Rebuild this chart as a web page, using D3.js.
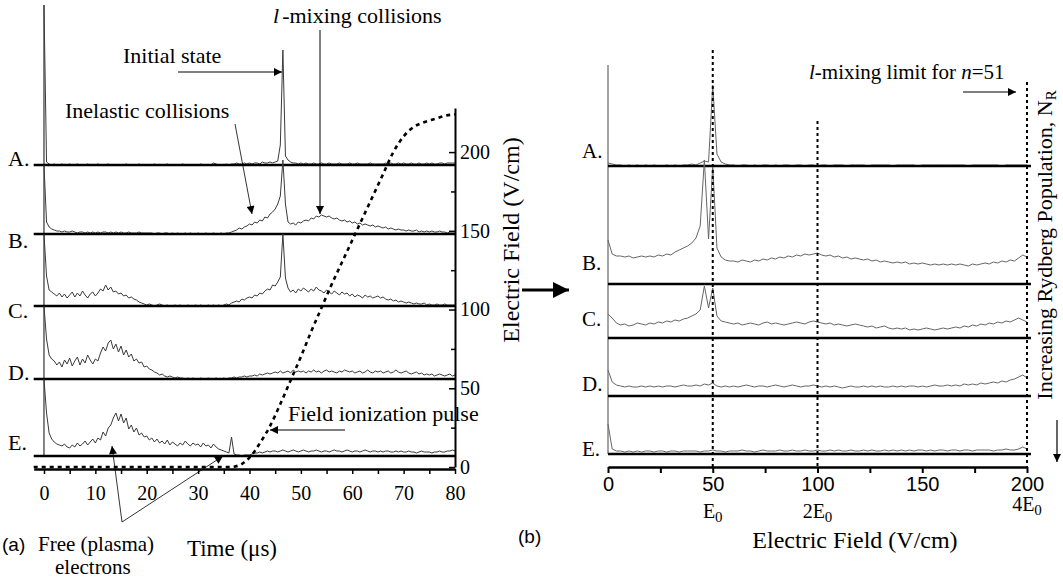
<!DOCTYPE html>
<html>
<head>
<meta charset="utf-8">
<script src="https://cdn.jsdelivr.net/npm/d3@7"></script>
<style>
  body { margin: 0; background: #fff; }
  svg { display: block; }
  .serif { font-family: "Liberation Serif", "Times New Roman", serif; }
  .sans { font-family: "Liberation Sans", Arial, sans-serif; }
</style>
</head>
<body>
<div id="chart"></div>
<script>
// ---- data ----
const traceLabels = ['A.', 'B.', 'C.', 'D.', 'E.']

// (a) signal vs time, one value every 0.5 us from 0 to 80 us (arb. units)
const timeStep = 0.5
const timeSignalA = [
  160,3,1,0,1,0,0,1,0,0, 1,0,0,1,0,0,0,1,0,0, 0,1,0,0,0,1,0,0,0,0, 0,0,1,0,0,0,0,1,0,0,
  0,0,0,1,0,0,0,0,1,0, 0,0,0,0,1,0,0,0,0,0, 0,1,0,0,0,0,2,1,0,0, 0,1,0,1,1,2,1,1,2,1,
  2,1,2,2,1,3,2,2,3,2, 3,4,20,115,9,5,3,2,2,1, 2,1,2,1,1,2,1,1,2,1, 1,2,1,1,1,2,1,1,1,2,
  1,1,2,1,1,1,1,2,1,1, 1,1,1,2,1,2,1,1,2,1, 2,1,1,2,1,1,2,1,1,2, 1,2,1,1,2,2,1,2,2,2,
  2]
const timeSignalB = [
  69,12,7,5,4,3,3,2,3,2, 2,3,2,1,2,2,1,2,1,2, 1,2,1,2,2,1,2,1,2,1, 2,1,1,2,1,1,1,2,1,1,
  1,1,1,0,1,1,0,1,1,0, 1,0,1,0,0,1,0,1,0,0, 1,0,0,1,0,0,1,0,0,1, 0,1,1,2,3,4,6,5,7,8,
  10,9,12,11,14,13,17,16,20,22, 25,30,38,74,30,12,10,11,9,12, 11,13,14,13,16,15,18,17,19,18, 17,18,16,15,16,14,13,14,12,13,
  11,12,10,11,9,10,9,8,9,7, 8,7,6,7,5,6,5,4,5,4, 4,3,4,3,3,4,2,3,2,3, 2,3,2,2,3,2,2,1,2,2,
  2]
const timeSignalC = [
  72,30,16,14,12,10,13,9,12,8, 11,14,9,13,10,15,11,8,12,14, 10,13,17,15,21,16,19,14,15,12, 13,10,11,8,9,7,6,4,3,2,
  1,2,1,0,1,2,1,0,1,0, 0,1,0,1,0,0,1,0,0,1, 0,1,0,0,1,0,1,0,1,0, 1,2,1,3,4,5,4,7,6,8,
  9,8,11,10,13,12,15,17,16,21, 20,24,29,72,28,18,14,16,13,17, 15,18,16,14,17,15,19,16,15,13, 16,14,12,15,13,11,14,12,13,10,
  12,9,11,10,8,11,9,10,8,9, 10,8,9,7,6,7,5,6,4,5, 4,3,4,3,2,3,2,2,3,1, 2,1,1,2,1,1,2,1,1,1,
  1]
const timeSignalD = [
  73,40,24,20,18,14,17,12,19,15, 21,13,18,22,14,20,16,24,19,15, 20,18,26,32,28,36,39,30,35,27, 33,24,29,22,25,18,20,16,17,12,
  13,10,9,7,6,4,5,3,2,3, 2,1,2,1,1,0,1,0,1,0, 0,1,0,0,1,0,0,1,0,0, 1,0,1,1,2,1,2,2,3,2,
  3,3,4,3,5,4,5,6,5,6, 7,6,8,6,7,8,6,9,7,8, 7,8,6,8,7,9,7,8,6,8, 9,7,8,7,6,8,7,9,8,7,
  8,6,7,8,6,7,9,7,6,8, 7,8,6,7,8,6,7,9,7,6, 7,8,6,5,6,7,5,6,4,5, 4,5,3,4,5,4,3,4,5,3,
  4]
const timeSignalE = [
  77,43,23,17,14,12,11,10,12,9, 8,11,9,13,10,12,15,11,14,17, 13,18,16,24,20,28,31,38,43,35, 42,33,38,27,31,24,28,21,23,19,
  20,16,18,14,17,13,15,12,16,11, 14,12,10,13,11,15,12,10,13,11, 12,9,13,10,11,8,12,9,7,6, 5,4,3,19,2,1,1,0,1,1,
  1,2,3,3,4,3,4,5,4,5, 5,4,5,6,5,4,5,6,5,4, 5,6,5,4,5,5,6,5,4,5, 5,4,5,6,5,5,4,5,6,5,
  4,5,5,4,5,6,5,4,5,5, 4,5,4,5,5,4,4,5,4,5, 4,4,5,4,4,3,4,5,4,4, 4,3,4,4,5,4,4,5,5,6,
  5]

// field ionization pulse (V/cm) vs time (us)
const pulseTime = [-2, 36, 38, 39, 40, 41, 42, 44, 46, 48, 50, 52, 54, 56, 58, 60, 62, 64, 66, 68, 70, 72, 74, 76, 78, 80]
const pulseField = [0, 0, 1, 3, 6, 10, 15, 26, 40, 55, 70, 86, 101, 116, 130, 144, 158, 172, 186, 200, 210, 216, 219, 221, 223, 224]

// (b) signal vs electric field, one value every 2 V/cm from 0 to 200 V/cm
const fieldStep = 2
const fieldSignalA = [
  3,2,1,1,0,1,0,1,0,1, 0,1,0,0,1,0,1,0,1,1, 2,1,3,5,4,81,12,4,2,1, 1,0,1,1,0,1,0,1,1,0,
  1,0,1,1,0,1,1,0,1,1, 0,1,1,0,1,1,1,0,1,1, 1,1,0,1,1,1,1,1,0,1, 1,1,1,1,0,1,1,1,1,1,
  1,1,1,1,1,1,0,1,1,1, 1,1,1,1,0,1,1,1,1,1, 1]
const fieldSignalB = [
  44,30,28,28,27,28,26,27,28,27, 28,27,29,28,30,29,32,34,36,38, 41,46,58,124,45,118,36,27,24,23, 23,22,24,23,22,24,23,25,24,26,
  25,27,26,28,27,29,28,30,29,30, 31,29,28,29,27,28,26,27,25,26, 25,24,25,23,24,22,23,22,21,22, 21,22,20,21,20,21,20,19,20,19,
  20,19,20,19,20,19,18,20,19,20, 21,20,22,21,23,22,24,23,26,29, 27]
const fieldSignalC = [
  24,20,15,13,14,12,13,15,14,13, 15,14,16,15,17,16,18,17,19,20, 22,24,28,52,30,50,22,17,16,15, 14,15,13,14,15,14,13,15,16,14,
  15,14,13,14,15,16,15,14,16,17, 16,15,14,15,13,14,13,12,13,14, 13,12,11,12,10,11,12,10,9,10, 9,10,8,9,8,9,10,9,8,9,
  10,9,10,11,10,12,11,13,12,14, 13,15,14,16,15,17,16,18,20,18, 16]
const fieldSignalD = [
  26,14,11,10,9,10,9,9,10,9, 10,9,10,9,10,10,9,10,11,10, 10,11,10,12,11,13,10,9,10,9, 10,9,10,11,10,9,10,10,9,10,
  11,10,9,10,11,10,9,10,10,11, 10,9,10,9,10,9,8,9,10,9, 9,10,9,10,9,10,9,9,10,9, 10,9,10,10,9,10,9,10,11,10,
  10,11,10,11,10,12,11,12,11,13, 12,13,14,13,15,14,16,17,19,21, 18]
const fieldSignalE = [
  30,5,3,3,2,3,2,3,2,3, 3,2,3,3,2,3,3,2,3,3, 3,3,2,3,3,4,3,3,2,3, 3,3,4,3,3,2,3,4,3,3,
  3,4,3,3,4,3,3,4,3,3, 4,3,3,4,3,4,3,3,4,3, 3,4,3,4,3,3,4,3,4,3, 4,3,4,3,4,4,3,4,3,4,
  4,3,4,4,3,4,4,3,4,4, 4,4,3,4,4,5,4,4,5,7, 5]

const timeTicks = [0, 10, 20, 30, 40, 50, 60, 70, 80]
const pulseTicks = [0, 50, 100, 150, 200]
const fieldTicks = [0, 50, 100, 150, 200]
const fieldMarks = [50, 100, 200]
const fieldMarkPrefix = ['', '2', '4']

// ---- layout ----
const width = 1063
const height = 578
const leftBase = [165, 234, 306, 379, 456]
const rightBase = [166, 284, 338, 396, 454]

const svg = d3.select('#chart').append('svg')
  .attr('width', width)
  .attr('height', height)

const defs = svg.append('defs')
function addMarker (id, w, h) {
  defs.append('marker')
    .attr('id', id)
    .attr('viewBox', '0 0 10 10')
    .attr('refX', 10).attr('refY', 5)
    .attr('markerWidth', w).attr('markerHeight', h)
    .attr('markerUnits', 'userSpaceOnUse')
    .attr('orient', 'auto')
    .append('path').attr('d', 'M0,0L10,5L0,10Z').attr('fill', '#000')
}
addMarker('head', 11, 8)
addMarker('headBig', 18, 16)

function arrow (x1, y1, x2, y2, w, marker) {
  svg.append('line')
    .attr('x1', x1).attr('y1', y1).attr('x2', x2).attr('y2', y2)
    .attr('stroke', '#000').attr('stroke-width', w)
    .attr('marker-end', 'url(#' + marker + ')')
}

function label (x, y, txt, size, cls, anchor) {
  return svg.append('text')
    .attr('class', cls || 'serif')
    .attr('x', x).attr('y', y)
    .attr('font-size', size)
    .attr('text-anchor', anchor || 'start')
    .text(txt)
}

// ================= panel (a) =================
const xT = d3.scaleLinear().domain([-2, 80]).range([33.7, 455])
const yF = d3.scaleLinear().domain([0, 228]).range([467, 108])

// vertical line at t = 0 (clipped initial spikes)
svg.append('line')
  .attr('x1', xT(0)).attr('x2', xT(0))
  .attr('y1', 5).attr('y2', leftBase[4])
  .attr('stroke', '#333').attr('stroke-width', 1.2)

const leftSignals = [timeSignalA, timeSignalB, timeSignalC, timeSignalD, timeSignalE]
leftSignals.forEach((vals, k) => {
  const y = d3.scaleLinear().domain([0, 100]).range([leftBase[k], leftBase[k] - 100])
  const line = d3.line().x((d, i) => xT(i * timeStep)).y(d => y(d))
  svg.append('path')
    .attr('d', line(vals))
    .attr('fill', 'none')
    .attr('stroke', '#3a3a3a')
    .attr('stroke-width', 1)
  svg.append('line')
    .attr('x1', xT(-2)).attr('x2', xT(80))
    .attr('y1', leftBase[k]).attr('y2', leftBase[k])
    .attr('stroke', '#000').attr('stroke-width', 2.6)
})

const leftLabelY = [166, 248, 318, 380, 450]
traceLabels.forEach((t, k) => label(8, leftLabelY[k], t, 22))

// bottom time axis
const axT = svg.append('g')
  .attr('transform', 'translate(0,469)')
  .call(d3.axisBottom(xT).tickValues(d3.range(0, 81, 5)).tickSizeInner(5).tickSizeOuter(0).tickFormat(''))
axT.select('.domain').attr('stroke-width', 2.4)
axT.selectAll('.tick line').attr('stroke-width', 1.5)
const axTl = svg.append('g')
  .attr('transform', 'translate(0,469)')
  .call(d3.axisBottom(xT).tickValues(timeTicks).tickSize(0).tickPadding(17))
axTl.select('.domain').remove()
axTl.selectAll('text').attr('class', 'serif').attr('font-size', 20).attr('fill', '#000')

// right field axis of panel (a)
const axF = svg.append('g')
  .attr('transform', 'translate(455,0)')
  .call(d3.axisRight(yF).tickValues(pulseTicks).tickSizeInner(-6).tickSizeOuter(0).tickPadding(5))
axF.select('.domain').attr('stroke-width', 2)
axF.selectAll('.tick line').attr('stroke-width', 1.5)
axF.selectAll('text').attr('class', 'serif').attr('font-size', 20).attr('fill', '#000')
const axFm = svg.append('g')
  .attr('transform', 'translate(455,0)')
  .call(d3.axisRight(yF).tickValues([25, 75, 125, 175]).tickSizeInner(-4).tickSizeOuter(0).tickFormat(''))
axFm.select('.domain').remove()
axFm.selectAll('.tick line').attr('stroke-width', 1.5)

// field ionization pulse
const pulseLine = d3.line().x((d, i) => xT(pulseTime[i])).y(d => yF(d)).curve(d3.curveMonotoneX)
svg.append('path')
  .attr('d', pulseLine(pulseField))
  .attr('fill', 'none')
  .attr('stroke', '#000')
  .attr('stroke-width', 2.6)
  .attr('stroke-dasharray', '4,4')

// annotations (a)
const lmix = svg.append('text').attr('class', 'serif').attr('x', 273).attr('y', 23).attr('font-size', 22)
lmix.append('tspan').attr('font-style', 'italic').text('l')
lmix.append('tspan').attr('dx', 3).text('-mixing collisions')
arrow(320, 30, 320, 214, 1, 'head')

label(123, 63, 'Initial state', 22)
arrow(178, 72, 282, 72, 1.2, 'head')

label(65, 118, 'Inelastic collisions', 22)
arrow(235, 124, 252, 214, 0.8, 'head')

label(288, 421, 'Field ionization pulse', 22)
arrow(345, 430, 270, 430, 1, 'head')

label(2, 551, '(a)', 19, 'sans')
label(38, 551, 'Free (plasma)', 21)
label(55, 574, 'electrons', 21)
arrow(122, 522, 112, 446, 0.8, 'head')
arrow(122, 522, 223, 456, 0.8, 'head')

label(232, 556, 'Time (\u03bcs)', 23, 'serif', 'middle')

// rotated field label + arrow into panel (b)
label(0, 0, 'Electric Field (V/cm)', 24)
  .attr('text-anchor', 'middle')
  .attr('transform', 'translate(519,240) rotate(-90)')
arrow(522, 290, 569, 290, 3.2, 'headBig')

// ================= panel (b) =================
const xE = d3.scaleLinear().domain([0, 200]).range([608, 1027])

svg.append('line')
  .attr('x1', xE(0)).attr('x2', xE(0))
  .attr('y1', 65).attr('y2', rightBase[4])
  .attr('stroke', '#666').attr('stroke-width', 1.2)

const rightSignals = [fieldSignalA, fieldSignalB, fieldSignalC, fieldSignalD, fieldSignalE]
rightSignals.forEach((vals, k) => {
  const y = d3.scaleLinear().domain([0, 100]).range([rightBase[k], rightBase[k] - 100])
  const line = d3.line().x((d, i) => xE(i * fieldStep)).y(d => y(d))
  svg.append('path')
    .attr('d', line(vals))
    .attr('fill', 'none')
    .attr('stroke', '#666')
    .attr('stroke-width', 1)
  svg.append('line')
    .attr('x1', xE(0)).attr('x2', xE(200) + 4)
    .attr('y1', rightBase[k]).attr('y2', rightBase[k])
    .attr('stroke', '#000').attr('stroke-width', 2.6)
})

// dotted field markers
const markTop = [50, 121, 82]
fieldMarks.forEach((v, i) => {
  svg.append('line')
    .attr('x1', xE(v)).attr('x2', xE(v))
    .attr('y1', markTop[i]).attr('y2', 467)
    .attr('stroke', '#000').attr('stroke-width', 2)
    .attr('stroke-dasharray', '3,3')
})

const rightLabelY = [158, 270, 326, 391, 456]
traceLabels.forEach((t, k) => label(582, rightLabelY[k], t, 21))

const axE = svg.append('g')
  .attr('transform', 'translate(0,467)')
  .call(d3.axisBottom(xE).tickValues(d3.range(0, 201, 25)).tickSizeInner(6).tickSizeOuter(0).tickFormat(''))
axE.select('.domain').attr('stroke-width', 2.6)
axE.selectAll('.tick line').attr('stroke-width', 2)
const axEl = svg.append('g')
  .attr('transform', 'translate(0,467)')
  .call(d3.axisBottom(xE).tickValues(fieldTicks).tickSize(0).tickPadding(10))
axEl.select('.domain').remove()
axEl.selectAll('text').attr('class', 'sans').attr('font-size', 20).attr('fill', '#000')

fieldMarks.forEach((v, i) => {
  const t = svg.append('text').attr('class', 'serif')
    .attr('x', xE(v)).attr('y', i === 2 ? 511 : 518)
    .attr('font-size', 20).attr('text-anchor', 'middle')
  t.append('tspan').text(fieldMarkPrefix[i] + 'E')
  t.append('tspan').attr('font-size', 15).attr('dy', 4).text('0')
})

label(855, 548, 'Electric Field (V/cm)', 24, 'serif', 'middle')
label(518, 543, '(b)', 19, 'sans')

const lim = svg.append('text').attr('class', 'serif').attr('x', 809).attr('y', 79).attr('font-size', 21)
lim.append('tspan').attr('font-style', 'italic').text('l')
lim.append('tspan').text('-mixing limit for ')
lim.append('tspan').attr('font-style', 'italic').text('n')
lim.append('tspan').text('=51')
arrow(963, 92, 1016, 92, 1.2, 'head')

const pop = svg.append('text').attr('class', 'serif')
  .attr('transform', 'translate(1052,245) rotate(-90)')
  .attr('font-size', 22).attr('text-anchor', 'middle')
pop.append('tspan').text('Increasing Rydberg Population, N')
pop.append('tspan').attr('font-size', 15).attr('dy', 4).text('R')
arrow(1057, 420, 1057, 462, 1.2, 'head')
</script>
</body>
</html>
